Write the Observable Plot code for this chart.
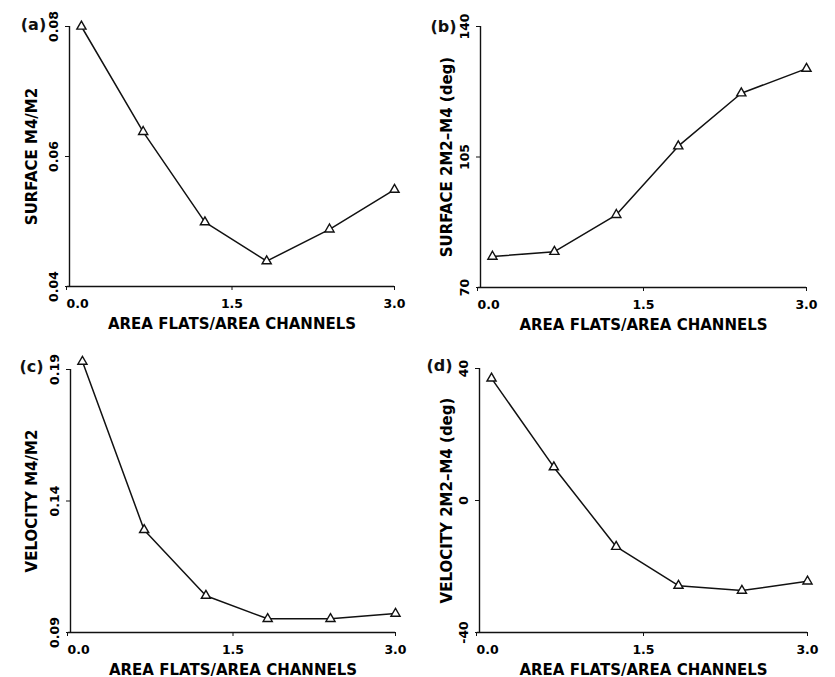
<!DOCTYPE html>
<html>
<head>
<meta charset="utf-8">
<script src="https://cdn.jsdelivr.net/npm/d3@7"></script>
<script src="https://cdn.jsdelivr.net/npm/@observablehq/plot@0.6"></script>
<style>
  html, body { margin: 0; padding: 0; background: #fff; }
  #wrap { position: relative; width: 835px; height: 677px; overflow: hidden; }
  #wrap > div, #wrap > svg { position: absolute; }
</style>
</head>
<body>
<div id="wrap"></div>
<script>
// Shared x values: area flats / area channels
const ratio = [0.11, 0.68, 1.25, 1.82, 2.40, 3.0];
const xTicks = [0, 1.5, 3.0];

// (a) surface M4/M2
const surfaceM4M2 = [0.080, 0.0638, 0.0499, 0.0439, 0.0488, 0.0549];
// (b) surface 2M2-M4 phase (deg)
const surfacePhase = [78.3, 79.6, 89.5, 107.9, 122.1, 128.7];
// (c) velocity M4/M2
const velocityM4M2 = [0.193, 0.129, 0.104, 0.0952, 0.0952, 0.0972];
// (d) velocity 2M2-M4 phase (deg)
const velocityPhase = [37.0, 10.1, -14.0, -25.8, -27.3, -24.5];

const panelLabels = ["(a)", "(b)", "(c)", "(d)"];
const yTitles = ["SURFACE M4/M2", "SURFACE 2M2\u2013M4 (deg)", "VELOCITY M4/M2", "VELOCITY 2M2\u2013M4 (deg)"];
const yTickSets = [[0.04, 0.06, 0.08], [70, 105, 140], [0.09, 0.14, 0.19], [-40, 0, 40]];
const yTickText = [["0.04", "0.06", "0.08"], ["70", "105", "140"], ["0.09", "0.14", "0.19"], ["-40", "0", "40"]];
const xTickText = ["0.0", "1.5", "3.0"];
const xTitle = "AREA FLATS/AREA CHANNELS";

const font = "'DejaVu Sans', sans-serif";

const panels = [
  {values: surfaceM4M2, left: 0,   top: 0,   w: 420, h: 335, mL: 69, mR: 26, mT: 26, mB: 49, ldx: -36, ldy: -2},
  {values: surfacePhase, left: 415, top: 0,  w: 420, h: 335, mL: 65, mR: 29, mT: 26, mB: 48, ldx: -37, ldy: 0},
  {values: velocityM4M2, left: 0,  top: 335, w: 420, h: 342, mL: 70, mR: 25, mT: 34, mB: 45, ldx: -39, ldy: -3},
  {values: velocityPhase, left: 415, top: 335, w: 420, h: 342, mL: 64, mR: 28, mT: 33, mB: 45, ldx: -40, ldy: -3}
];

const wrap = document.getElementById("wrap");

panels.forEach((p, i) => {
  const data = ratio.map((r, j) => ({x: r, y: p.values[j]}));
  const yt = yTickSets[i];
  const ymin = yt[0], ymax = yt[yt.length - 1];
  const chart = Plot.plot({
    width: p.w,
    height: p.h,
    marginLeft: p.mL,
    marginRight: p.mR,
    marginTop: p.mT,
    marginBottom: p.mB,
    style: {fontFamily: font, background: "transparent", overflow: "visible"},
    x: {domain: [0, 3]},
    y: {domain: [ymin, ymax]},
    marks: [
      Plot.ruleX([0], {y1: ymin, y2: ymax, stroke: "#111", strokeWidth: 1.4}),
      Plot.ruleY([ymin], {x1: -0.02, x2: 3, stroke: "#111", strokeWidth: 1.4}),
      Plot.axisY({
        ticks: yt,
        tickFormat: (d) => yTickText[i][yt.indexOf(d)],
        tickSize: 4,
        tickRotate: -90,
        tickPadding: 8,
        fontSize: 12.5,
        fontWeight: "bold",
        label: yTitles[i],
        labelAnchor: "center",
        labelArrow: "none",
        labelOffset: p.mL - 26,
        stroke: "#111"
      }),
      Plot.axisX({
        ticks: [xTicks[0]],
        tickFormat: (d) => xTickText[xTicks.indexOf(d)],
        tickSize: 4,
        tickPadding: 9,
        textAnchor: "start",
        dx: -3,
        fontSize: 12.5,
        fontWeight: "bold",
        label: null,
        stroke: "#111"
      }),
      Plot.axisX({
        ticks: xTicks.slice(1),
        tickFormat: (d) => xTickText[xTicks.indexOf(d)],
        tickSize: 4,
        tickPadding: 9,
        fontSize: 12.5,
        fontWeight: "bold",
        label: xTitle,
        labelAnchor: "center",
        labelArrow: "none",
        labelOffset: 42,
        stroke: "#111"
      }),
      Plot.line(data, {x: "x", y: "y", stroke: "#111", strokeWidth: 1.5}),
      Plot.dot(data, {x: "x", y: "y", symbol: "triangle", r: 3.4, stroke: "#111", fill: "white", strokeWidth: 1.4}),
      Plot.text([panelLabels[i]], {frameAnchor: "top-left", lineAnchor: "middle", dx: p.ldx, dy: p.ldy, fontSize: 16, fontWeight: "bold", fill: "#111", textAnchor: "middle"})
    ]
  });
  chart.style.left = p.left + "px";
  chart.style.top = p.top + "px";
  wrap.appendChild(chart);
});

// style axis titles
wrap.querySelectorAll("svg g[aria-label='y-axis label'] text, svg g[aria-label='x-axis label'] text").forEach(t => {
  t.setAttribute("font-size", "15");
  t.style.fontSize = "15px";
  t.style.fontWeight = "bold";
});
</script>
</body>
</html>
